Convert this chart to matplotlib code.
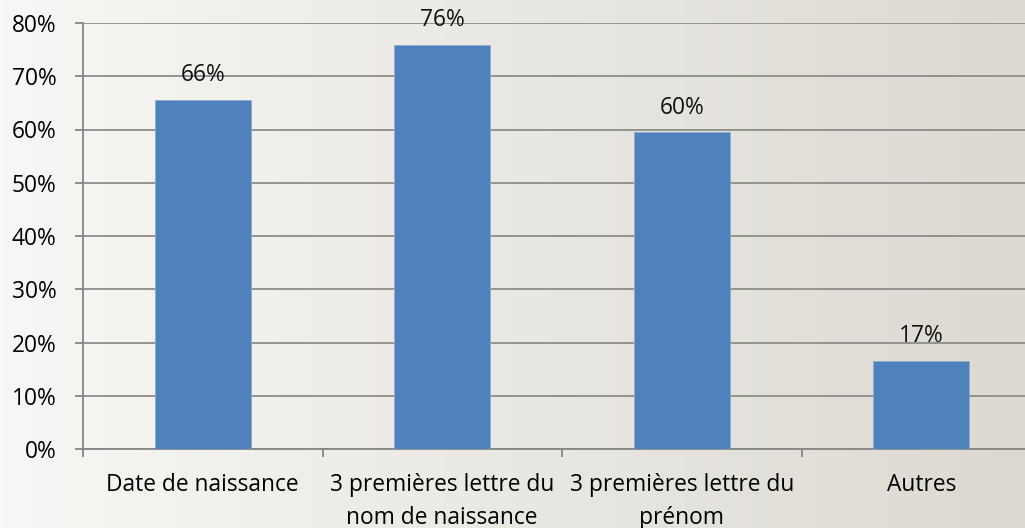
import numpy as np
import matplotlib
matplotlib.use("Agg")
import matplotlib.pyplot as plt

plt.rcParams['font.family'] = ['Open Sans', 'DejaVu Sans']

categories = ["Date de naissance", "3 premières lettre du\nnom de naissance",
              "3 premières lettre du\nprénom", "Autres"]
values = [65.6, 75.9, 59.5, 16.6]   # percent
labels = ["66%", "76%", "60%", "17%"]
yticks = [0, 10, 20, 30, 40, 50, 60, 70, 80]
fs = 16.4

fig = plt.figure(figsize=(10.25, 5.28), dpi=100)

# background gradient (white-ish left -> warm grey right)
bg = fig.add_axes([0, 0, 1, 1], zorder=-1)
left = np.array([247, 247, 245]) / 255
right = np.array([220, 217, 209]) / 255
t = np.linspace(0, 1, 256)[None, :, None]
grad = left + (right - left) * t
bg.imshow(grad, aspect='auto', extent=[0, 1, 0, 1])
bg.axis('off')

ax = fig.add_axes([83 / 1025, 1 - 449 / 528, 958 / 1025, 426 / 528])
ax.set_facecolor('none')

x = np.arange(len(categories))
ax.bar(x, values, width=0.4, color='#4f81bd', edgecolor='#8eabd0', linewidth=0.6, zorder=3)
for xi, v, lab in zip(x, values, labels):
    ax.annotate(lab, (xi, v), xytext=(0, 9), textcoords='offset points',
                ha='center', va='bottom', fontsize=fs, color='#111111', zorder=4)

ax.set_xlim(-0.5, 3.5)
ax.set_ylim(0, 80)
ax.set_yticks(yticks)
ax.set_yticklabels([f"{v}%" for v in yticks])
ax.yaxis.grid(True, color='#8c8c8c', linewidth=1.3)
ax.set_axisbelow(True)

ax.set_xticks(x)
ax.set_xticklabels(categories, linespacing=1.5)
ax.set_xticks([-0.5, 0.5, 1.5, 2.5, 3.5], minor=True)
ax.tick_params(axis='x', which='major', length=0, pad=17, labelsize=fs)
ax.tick_params(axis='x', which='minor', length=6, width=1.3, color='#868686')
ax.tick_params(axis='y', length=6, width=1.3, color='#868686', pad=13, labelsize=fs)

for s in ['top', 'right']:
    ax.spines[s].set_visible(False)
for s in ['left', 'bottom']:
    ax.spines[s].set_color('#868686')
    ax.spines[s].set_linewidth(1.3)

fig.savefig("out.png", dpi=100)
